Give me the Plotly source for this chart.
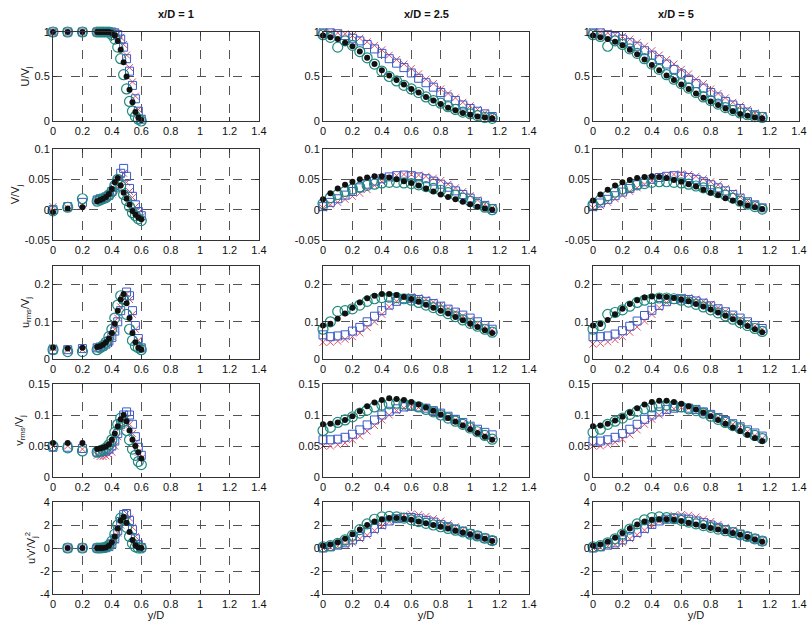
import plotly.graph_objects as go

# ---------------- data ----------------
YD1 = [0, 0.1, 0.2, 0.3, 0.32, 0.34, 0.36, 0.38, 0.40, 0.42, 0.44, 0.46, 0.48, 0.50, 0.52, 0.54, 0.56, 0.58, 0.60]
YD2 = [0, 0.05, 0.1, 0.15, 0.2, 0.25, 0.3, 0.35, 0.4, 0.45, 0.5, 0.55, 0.6, 0.65, 0.7, 0.75, 0.8, 0.85, 0.9, 0.95, 1.0, 1.05, 1.1, 1.15]

COL_TITLES = ["x/D = 1", "x/D = 2.5", "x/D = 5"]
ROW_TITLES = ["U/V<sub>j</sub>", "V/V<sub>j</sub>", "u<sub>rms</sub>/V<sub>j</sub>", "v<sub>rms</sub>/V<sub>j</sub>", "u'v'/V<sub>j</sub><sup>2</sup>"]
X_TICKS = [0, 0.2, 0.4, 0.6, 0.8, 1.0, 1.2, 1.4]
X_TICKTEXT = ["0", "0.2", "0.4", "0.6", "0.8", "1", "1.2", "1.4"]
Y_TICKS = [[0, 0.5, 1], [-0.05, 0, 0.05, 0.1], [0, 0.1, 0.2], [0, 0.05, 0.1, 0.15], [-4, -2, 0, 2, 4]]
Y_TICKTEXT = [["0", "0.5", "1"], ["-0.05", "0", "0.05", "0.1"], ["0", "0.1", "0.2"], ["0", "0.05", "0.1", "0.15"], ["-4", "-2", "0", "2", "4"]]
Y_RANGES = [[0, 1], [-0.05, 0.1], [0, 0.25], [0, 0.15], [-4, 4]]

# U/Vj
U1_red   = [1, 1, 1, 1, 1, 1, 1, 1, 1, 1.0, 0.98, 0.94, 0.86, 0.74, 0.60, 0.44, 0.28, 0.13, 0.03]
U1_blue  = [1, 1, 1, 1, 1, 1, 1, 1, 1, 0.99, 0.97, 0.92, 0.83, 0.70, 0.56, 0.40, 0.25, 0.11, 0.02]
U1_teal  = [1, 1, 1, 1, 1, 1, 1, 1, 0.97, 0.92, 0.83, 0.70, 0.52, 0.36, 0.22, 0.11, 0.05, 0.02, 0.0]
U1_black = [1, 1, 1, 1, 1, 1, 1, 1, 0.99, 0.96, 0.90, 0.80, 0.66, 0.50, 0.35, 0.21, 0.10, 0.04, 0.01]
U2_red   = [1, 1, 0.99, 0.98, 0.96, 0.93, 0.89, 0.85, 0.8, 0.74, 0.69, 0.64, 0.59, 0.53, 0.47, 0.42, 0.36, 0.31, 0.26, 0.21, 0.17, 0.13, 0.09, 0.06]
U2_blue  = [0.99, 0.99, 0.98, 0.96, 0.93, 0.9, 0.86, 0.81, 0.76, 0.7, 0.65, 0.6, 0.54, 0.48, 0.43, 0.38, 0.32, 0.27, 0.23, 0.18, 0.14, 0.11, 0.08, 0.05]
U2_teal  = [0.97, 0.94, 0.83, 0.9, 0.85, 0.78, 0.71, 0.64, 0.56, 0.5, 0.45, 0.4, 0.36, 0.32, 0.27, 0.23, 0.2, 0.16, 0.13, 0.1, 0.08, 0.06, 0.04, 0.03]
U2_black = [0.96, 0.94, 0.92, 0.88, 0.84, 0.78, 0.71, 0.64, 0.57, 0.51, 0.46, 0.41, 0.36, 0.32, 0.27, 0.23, 0.19, 0.15, 0.12, 0.09, 0.07, 0.05, 0.04, 0.03]
U3_red   = [1, 1, 0.99, 0.97, 0.95, 0.92, 0.88, 0.84, 0.79, 0.74, 0.69, 0.64, 0.58, 0.53, 0.47, 0.42, 0.36, 0.31, 0.26, 0.21, 0.17, 0.13, 0.09, 0.06]
U3_blue  = [0.99, 0.99, 0.97, 0.95, 0.92, 0.88, 0.84, 0.79, 0.74, 0.69, 0.64, 0.58, 0.53, 0.47, 0.42, 0.37, 0.32, 0.27, 0.22, 0.18, 0.14, 0.1, 0.07, 0.05]
U3_teal  = [0.97, 0.95, 0.84, 0.9, 0.86, 0.81, 0.76, 0.7, 0.64, 0.58, 0.52, 0.47, 0.42, 0.37, 0.32, 0.27, 0.23, 0.19, 0.15, 0.12, 0.09, 0.07, 0.05, 0.04]
U3_black = [0.96, 0.94, 0.92, 0.89, 0.85, 0.8, 0.75, 0.69, 0.63, 0.57, 0.51, 0.46, 0.41, 0.36, 0.31, 0.26, 0.22, 0.18, 0.14, 0.11, 0.08, 0.06, 0.04, 0.03]

# V/Vj
V1_red   = [0.005, 0.003, 0.008, 0.015, 0.017, 0.018, 0.02, 0.022, 0.026, 0.032, 0.04, 0.05, 0.06, 0.045, 0.03, 0.02, 0.005, -0.005, -0.012]
V1_blue  = [0.0, 0.005, 0.012, 0.016, 0.018, 0.019, 0.021, 0.024, 0.03, 0.037, 0.047, 0.06, 0.068, 0.055, 0.035, 0.022, 0.008, -0.003, -0.01]
V1_teal  = [-0.002, 0.004, 0.018, 0.014, 0.016, 0.018, 0.02, 0.024, 0.03, 0.04, 0.05, 0.04, 0.025, 0.015, 0.005, -0.005, -0.01, -0.015, -0.018]
V1_black = [-0.004, 0.002, 0.004, 0.014, 0.016, 0.018, 0.021, 0.026, 0.034, 0.045, 0.052, 0.04, 0.028, 0.018, 0.008, -0.002, -0.008, -0.013, -0.016]
V2_red   = [0.003, 0.008, 0.012, 0.017, 0.022, 0.027, 0.033, 0.04, 0.046, 0.052, 0.056, 0.058, 0.058, 0.057, 0.055, 0.052, 0.048, 0.042, 0.036, 0.03, 0.023, 0.016, 0.009, 0.003]
V2_blue  = [0.005, 0.012, 0.018, 0.024, 0.03, 0.036, 0.042, 0.047, 0.051, 0.054, 0.056, 0.057, 0.056, 0.054, 0.051, 0.047, 0.042, 0.037, 0.031, 0.025, 0.019, 0.013, 0.007, 0.002]
V2_teal  = [0.01, 0.02, 0.025, 0.03, 0.034, 0.037, 0.04, 0.042, 0.044, 0.045, 0.045, 0.044, 0.043, 0.041, 0.038, 0.035, 0.032, 0.028, 0.024, 0.019, 0.014, 0.009, 0.004, 0.0]
V2_black = [0.017, 0.027, 0.035, 0.041, 0.046, 0.05, 0.053, 0.055, 0.055, 0.053, 0.05, 0.047, 0.044, 0.04, 0.035, 0.03, 0.025, 0.021, 0.017, 0.013, 0.009, 0.005, 0.002, 0.0]
V3_red   = [0.003, 0.007, 0.012, 0.018, 0.024, 0.03, 0.036, 0.042, 0.047, 0.052, 0.056, 0.058, 0.059, 0.058, 0.055, 0.051, 0.046, 0.041, 0.035, 0.028, 0.021, 0.015, 0.009, 0.003]
V3_blue  = [0.005, 0.011, 0.017, 0.023, 0.029, 0.035, 0.041, 0.046, 0.05, 0.053, 0.055, 0.056, 0.055, 0.053, 0.05, 0.046, 0.041, 0.036, 0.031, 0.025, 0.019, 0.013, 0.008, 0.003]
V3_teal  = [0.008, 0.016, 0.023, 0.029, 0.034, 0.038, 0.041, 0.043, 0.045, 0.046, 0.046, 0.045, 0.044, 0.042, 0.039, 0.036, 0.032, 0.028, 0.024, 0.019, 0.014, 0.009, 0.005, 0.001]
V3_black = [0.015, 0.025, 0.033, 0.04, 0.045, 0.049, 0.052, 0.054, 0.055, 0.054, 0.052, 0.049, 0.046, 0.042, 0.038, 0.033, 0.028, 0.024, 0.019, 0.015, 0.011, 0.007, 0.004, 0.001]

# u_rms/Vj
UR1_red   = [0.03, 0.025, 0.025, 0.03, 0.032, 0.035, 0.04, 0.05, 0.06, 0.08, 0.11, 0.14, 0.165, 0.175, 0.16, 0.12, 0.08, 0.05, 0.03]
UR1_blue  = [0.025, 0.025, 0.028, 0.03, 0.032, 0.035, 0.04, 0.048, 0.058, 0.075, 0.1, 0.13, 0.16, 0.18, 0.17, 0.13, 0.09, 0.055, 0.03]
UR1_teal  = [0.025, 0.02, 0.02, 0.025, 0.03, 0.035, 0.045, 0.06, 0.08, 0.11, 0.145, 0.17, 0.16, 0.12, 0.08, 0.05, 0.035, 0.03, 0.025]
UR1_black = [0.03, 0.028, 0.03, 0.032, 0.034, 0.038, 0.045, 0.055, 0.07, 0.095, 0.13, 0.16, 0.175, 0.15, 0.11, 0.07, 0.045, 0.03, 0.025]
UR2_red   = [0.045, 0.045, 0.048, 0.053, 0.06, 0.07, 0.085, 0.1, 0.12, 0.14, 0.155, 0.165, 0.168, 0.165, 0.16, 0.153, 0.145, 0.136, 0.126, 0.116, 0.106, 0.096, 0.087, 0.078]
UR2_blue  = [0.065, 0.06, 0.062, 0.065, 0.075, 0.085, 0.1, 0.115, 0.13, 0.145, 0.155, 0.162, 0.163, 0.16, 0.155, 0.149, 0.142, 0.134, 0.126, 0.118, 0.11, 0.1, 0.09, 0.08]
UR2_teal  = [0.08, 0.1, 0.128, 0.13, 0.135, 0.145, 0.155, 0.162, 0.165, 0.166, 0.165, 0.162, 0.158, 0.152, 0.145, 0.138, 0.13, 0.122, 0.114, 0.105, 0.096, 0.088, 0.08, 0.072]
UR2_black = [0.09, 0.095, 0.108, 0.122, 0.138, 0.152, 0.163, 0.17, 0.175, 0.175, 0.172, 0.167, 0.161, 0.154, 0.146, 0.138, 0.13, 0.122, 0.113, 0.104, 0.095, 0.086, 0.077, 0.07]
UR3_red   = [0.04, 0.042, 0.046, 0.052, 0.06, 0.072, 0.086, 0.102, 0.12, 0.138, 0.152, 0.162, 0.166, 0.165, 0.161, 0.155, 0.147, 0.138, 0.128, 0.118, 0.108, 0.098, 0.088, 0.08]
UR3_blue  = [0.06, 0.06, 0.062, 0.067, 0.076, 0.088, 0.102, 0.117, 0.131, 0.144, 0.154, 0.16, 0.162, 0.16, 0.156, 0.15, 0.143, 0.135, 0.127, 0.118, 0.11, 0.1, 0.09, 0.082]
UR3_teal  = [0.08, 0.09, 0.12, 0.125, 0.132, 0.142, 0.152, 0.158, 0.162, 0.164, 0.164, 0.162, 0.158, 0.153, 0.147, 0.14, 0.132, 0.124, 0.116, 0.107, 0.098, 0.09, 0.082, 0.074]
UR3_black = [0.09, 0.094, 0.105, 0.12, 0.135, 0.148, 0.158, 0.165, 0.168, 0.168, 0.167, 0.164, 0.16, 0.155, 0.148, 0.141, 0.133, 0.125, 0.116, 0.107, 0.098, 0.089, 0.08, 0.072]

# v_rms/Vj
VR1_red   = [0.05, 0.05, 0.045, 0.035, 0.033, 0.033, 0.034, 0.036, 0.04, 0.05, 0.065, 0.08, 0.092, 0.095, 0.085, 0.07, 0.055, 0.04, 0.03]
VR1_blue  = [0.048, 0.048, 0.046, 0.04, 0.04, 0.041, 0.042, 0.045, 0.05, 0.058, 0.07, 0.085, 0.1, 0.105, 0.1, 0.085, 0.065, 0.048, 0.035]
VR1_teal  = [0.05, 0.047, 0.042, 0.04, 0.042, 0.044, 0.047, 0.052, 0.06, 0.072, 0.085, 0.095, 0.09, 0.075, 0.06, 0.045, 0.035, 0.025, 0.02]
VR1_black = [0.055, 0.055, 0.055, 0.045, 0.046, 0.047, 0.049, 0.053, 0.06, 0.07, 0.082, 0.093, 0.1, 0.09, 0.075, 0.06, 0.05, 0.04, 0.03]
VR2_red   = [0.05, 0.05, 0.052, 0.055, 0.06, 0.066, 0.074, 0.083, 0.092, 0.1, 0.107, 0.111, 0.113, 0.112, 0.11, 0.106, 0.102, 0.097, 0.092, 0.086, 0.08, 0.074, 0.068, 0.062]
VR2_blue  = [0.06, 0.06, 0.061, 0.064, 0.069, 0.076, 0.084, 0.092, 0.1, 0.106, 0.11, 0.113, 0.114, 0.113, 0.111, 0.107, 0.103, 0.098, 0.093, 0.088, 0.082, 0.077, 0.072, 0.068]
VR2_teal  = [0.075, 0.08, 0.088, 0.092, 0.097, 0.103, 0.108, 0.113, 0.116, 0.118, 0.119, 0.118, 0.116, 0.113, 0.109, 0.105, 0.1, 0.095, 0.09, 0.085, 0.079, 0.073, 0.067, 0.061]
VR2_black = [0.085, 0.086, 0.088, 0.092, 0.098, 0.106, 0.114, 0.12, 0.124, 0.127, 0.126, 0.124, 0.121, 0.117, 0.112, 0.107, 0.101, 0.095, 0.089, 0.083, 0.077, 0.071, 0.065, 0.06]
VR3_red   = [0.05, 0.05, 0.052, 0.056, 0.061, 0.068, 0.076, 0.085, 0.093, 0.1, 0.106, 0.11, 0.112, 0.111, 0.109, 0.105, 0.101, 0.096, 0.091, 0.085, 0.079, 0.073, 0.067, 0.062]
VR3_blue  = [0.058, 0.058, 0.06, 0.064, 0.07, 0.077, 0.085, 0.093, 0.1, 0.105, 0.109, 0.111, 0.112, 0.111, 0.109, 0.105, 0.101, 0.096, 0.091, 0.086, 0.081, 0.076, 0.071, 0.066]
VR3_teal  = [0.072, 0.077, 0.085, 0.09, 0.095, 0.101, 0.106, 0.11, 0.113, 0.115, 0.116, 0.115, 0.113, 0.11, 0.107, 0.103, 0.098, 0.093, 0.088, 0.083, 0.078, 0.072, 0.067, 0.062]
VR3_black = [0.082, 0.083, 0.086, 0.091, 0.097, 0.104, 0.111, 0.117, 0.121, 0.123, 0.123, 0.121, 0.118, 0.114, 0.109, 0.104, 0.098, 0.092, 0.086, 0.08, 0.074, 0.068, 0.063, 0.058]

# u'v'/Vj^2
UV1_red   = [None, 0, 0, 0, 0, 0, 0.02, 0.1, 0.3, 0.7, 1.3, 2.0, 2.6, 3.0, 2.6, 1.8, 1.0, 0.4, 0.1]
UV1_blue  = [None, 0, 0, 0, 0, 0, 0.03, 0.12, 0.35, 0.8, 1.5, 2.3, 2.9, 3.0, 2.4, 1.6, 0.8, 0.3, 0.05]
UV1_teal  = [None, 0, 0, 0, 0, 0.02, 0.08, 0.25, 0.6, 1.2, 2.0, 2.6, 2.5, 1.8, 1.0, 0.4, 0.1, 0, 0]
UV1_black = [None, 0, 0, 0, 0, 0.01, 0.05, 0.2, 0.5, 1.0, 1.7, 2.4, 2.7, 2.2, 1.4, 0.7, 0.25, 0.05, 0]
UV2_red   = [0.0, 0.05, 0.15, 0.3, 0.5, 0.8, 1.1, 1.5, 1.9, 2.3, 2.6, 2.85, 2.95, 2.9, 2.75, 2.55, 2.35, 2.1, 1.85, 1.6, 1.35, 1.1, 0.9, 0.7]
UV2_blue  = [0.0, 0.1, 0.25, 0.45, 0.7, 1.0, 1.35, 1.7, 2.05, 2.35, 2.55, 2.65, 2.65, 2.55, 2.4, 2.25, 2.05, 1.85, 1.65, 1.45, 1.25, 1.05, 0.85, 0.65]
UV2_teal  = [0.1, 0.2, 0.4, 0.7, 1.1, 1.6, 2.1, 2.5, 2.7, 2.75, 2.7, 2.6, 2.45, 2.3, 2.15, 2.0, 1.85, 1.7, 1.55, 1.4, 1.2, 1.05, 0.85, 0.65]
UV2_black = [0.2, 0.3, 0.5, 0.8, 1.2, 1.6, 2.0, 2.3, 2.5, 2.6, 2.6, 2.55, 2.45, 2.3, 2.15, 2.0, 1.85, 1.7, 1.5, 1.35, 1.2, 1.0, 0.8, 0.6]
UV3_red   = [0.0, 0.05, 0.15, 0.3, 0.5, 0.8, 1.15, 1.55, 1.95, 2.35, 2.65, 2.85, 2.9, 2.85, 2.7, 2.5, 2.3, 2.05, 1.8, 1.55, 1.3, 1.1, 0.9, 0.7]
UV3_blue  = [0.0, 0.1, 0.25, 0.45, 0.7, 1.0, 1.35, 1.7, 2.05, 2.35, 2.5, 2.6, 2.6, 2.5, 2.35, 2.2, 2.0, 1.8, 1.6, 1.4, 1.2, 1.0, 0.8, 0.6]
UV3_teal  = [0.1, 0.2, 0.45, 0.8, 1.2, 1.65, 2.1, 2.45, 2.65, 2.7, 2.65, 2.55, 2.4, 2.25, 2.1, 1.95, 1.8, 1.65, 1.5, 1.35, 1.15, 1.0, 0.8, 0.6]
UV3_black = [0.2, 0.3, 0.55, 0.9, 1.3, 1.7, 2.05, 2.3, 2.45, 2.5, 2.5, 2.45, 2.35, 2.2, 2.05, 1.9, 1.75, 1.6, 1.45, 1.3, 1.15, 0.95, 0.75, 0.55]

GRID = [
    [(U1_red, U1_blue, U1_teal, U1_black), (U2_red, U2_blue, U2_teal, U2_black), (U3_red, U3_blue, U3_teal, U3_black)],
    [(V1_red, V1_blue, V1_teal, V1_black), (V2_red, V2_blue, V2_teal, V2_black), (V3_red, V3_blue, V3_teal, V3_black)],
    [(UR1_red, UR1_blue, UR1_teal, UR1_black), (UR2_red, UR2_blue, UR2_teal, UR2_black), (UR3_red, UR3_blue, UR3_teal, UR3_black)],
    [(VR1_red, VR1_blue, VR1_teal, VR1_black), (VR2_red, VR2_blue, VR2_teal, VR2_black), (VR3_red, VR3_blue, VR3_teal, VR3_black)],
    [(UV1_red, UV1_blue, UV1_teal, UV1_black), (UV2_red, UV2_blue, UV2_teal, UV2_black), (UV3_red, UV3_blue, UV3_teal, UV3_black)],
]
XPOS = [YD1, YD2, YD2]

# ---------------- style ----------------
W, H = 808, 621
COL_PX = [(53, 259), (323, 529), (593, 799)]
ROW_PX = [(32, 121), (149, 240), (266, 359), (384, 477), (502, 594)]
FONT = "Liberation Sans, Arial, sans-serif"
TXT = "#111111"

MARKERS = [
    dict(symbol="x-thin-open", size=7, color="#e0506a", line=dict(width=1, color="#e0506a")),
    dict(symbol="square-open", size=8, color="#3a5cc8", line=dict(width=1, color="#3a5cc8")),
    dict(symbol="circle-open", size=10, color="#1f8a7e", line=dict(width=1.2, color="#1f8a7e")),
    dict(symbol="circle", size=6, color="#111111", line=dict(width=0, color="#111111")),
]

fig = go.Figure()
layout = dict(
    width=W, height=H, margin=dict(l=0, r=0, t=0, b=0, autoexpand=False),
    paper_bgcolor="white", plot_bgcolor="white", showlegend=False,
    font=dict(family=FONT, size=11, color=TXT),
)
annotations = []
k = 0
for r in range(5):
    for c in range(3):
        k += 1
        xa = "x" if k == 1 else f"x{k}"
        ya = "y" if k == 1 else f"y{k}"
        for s in range(4):
            fig.add_trace(go.Scatter(x=XPOS[c], y=GRID[r][c][s], mode="markers",
                                     marker=MARKERS[s], xaxis=xa, yaxis=ya,
                                     cliponaxis=False, hoverinfo="skip"))
        x0, x1 = COL_PX[c]
        t0, b0 = ROW_PX[r]
        axcommon = dict(showline=True, mirror="ticks", linecolor="#333333", linewidth=1,
                        ticks="inside", ticklen=4, tickcolor="#333333", automargin=False,
                        showgrid=True, gridcolor="#555555", griddash="dash", gridwidth=0.7,
                        zeroline=False, tickfont=dict(family=FONT, size=11, color=TXT))
        xax = dict(axcommon, domain=[x0 / W, x1 / W], range=[0, 1.4], anchor=ya,
                   tickmode="array", tickvals=X_TICKS, ticktext=X_TICKTEXT)
        if r == 4:
            xax["title"] = dict(text="y/D", standoff=0, font=dict(size=11))
        yax = dict(axcommon, domain=[1 - b0 / H, 1 - t0 / H], range=Y_RANGES[r], anchor=xa,
                   tickmode="array", tickvals=Y_TICKS[r], ticktext=Y_TICKTEXT[r])
        if c == 0:
            yax["title"] = dict(text=ROW_TITLES[r], standoff=2, font=dict(size=11))
        layout["xaxis" if k == 1 else f"xaxis{k}"] = xax
        layout["yaxis" if k == 1 else f"yaxis{k}"] = yax
for c in range(3):
    x0, x1 = COL_PX[c]
    annotations.append(dict(text=f"<b>{COL_TITLES[c]}</b>", x=(x0 + x1) / 2 / W, y=1 - 14 / H,
                            xref="paper", yref="paper", showarrow=False, yanchor="middle",
                            font=dict(family=FONT, size=11, color=TXT)))
layout["annotations"] = annotations
fig.update_layout(**layout)
fig.write_html("out.html")
